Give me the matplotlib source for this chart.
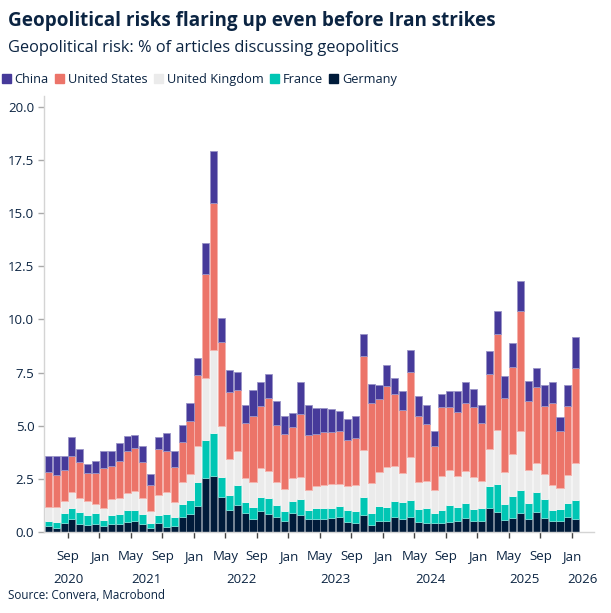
import numpy as np
import pandas as pd
import matplotlib
matplotlib.use('Agg')
import matplotlib.pyplot as plt
from matplotlib.patches import Rectangle
from matplotlib.colors import to_rgb

plt.rcParams['font.family'] = ['Open Sans', 'DejaVu Sans']

months = pd.period_range('2020-06', '2026-01', freq='M')

germany = [0.27, 0.20, 0.42, 0.61, 0.38, 0.31, 0.38, 0.28, 0.38, 0.36, 0.47, 0.52, 0.39, 0.20, 0.42, 0.24,
           0.28, 0.71, 0.85, 1.23, 2.56, 2.66, 1.67, 1.04, 1.27, 0.88, 0.60, 0.99, 0.83, 0.69, 0.52, 0.90,
           0.80, 0.63, 0.61, 0.61, 0.68, 0.69, 0.47, 0.44, 0.79, 0.31, 0.52, 0.53, 0.69, 0.63, 0.71, 0.47,
           0.42, 0.41, 0.41, 0.49, 0.53, 0.68, 0.52, 0.52, 1.13, 0.93, 0.58, 0.66, 0.90, 0.63, 0.93, 0.66,
           0.50, 0.52, 0.69, 0.63]
france = [0.25, 0.29, 0.46, 0.54, 0.56, 0.51, 0.50, 0.29, 0.44, 0.47, 0.57, 0.50, 0.47, 0.22, 0.37, 0.62,
          0.43, 0.63, 0.68, 1.11, 1.76, 1.98, 0.92, 0.71, 0.95, 0.55, 0.58, 0.66, 0.77, 0.58, 0.49, 0.56,
          0.74, 0.39, 0.54, 0.52, 0.47, 0.54, 0.57, 0.55, 0.85, 0.57, 0.69, 0.63, 0.76, 0.79, 0.80, 0.63,
          0.73, 0.47, 0.64, 0.77, 0.63, 0.69, 0.56, 0.61, 1.04, 1.35, 0.76, 1.02, 1.10, 0.72, 0.97, 0.88,
          0.54, 0.55, 0.69, 0.88]
uk = [0.66, 0.69, 0.58, 0.74, 0.68, 0.64, 0.46, 0.56, 0.74, 0.76, 0.80, 0.91, 0.74, 0.55, 0.96, 1.03,
      0.71, 1.03, 1.21, 1.73, 2.91, 3.93, 2.41, 1.69, 1.60, 1.13, 1.16, 1.35, 1.28, 1.09, 1.02, 1.09,
      1.05, 0.96, 1.04, 1.10, 1.11, 1.03, 1.13, 1.21, 2.24, 1.45, 1.62, 1.89, 1.66, 1.38, 2.04, 1.26,
      1.24, 1.09, 1.61, 1.65, 1.48, 1.51, 1.53, 1.28, 1.75, 2.53, 1.49, 1.98, 2.75, 1.56, 1.35, 1.21,
      1.19, 1.02, 1.31, 1.76]
us = [1.65, 1.52, 1.46, 1.69, 1.67, 1.31, 1.43, 1.90, 1.54, 1.76, 1.98, 2.02, 1.70, 1.25, 2.15, 1.93,
      1.65, 1.86, 2.48, 3.32, 4.89, 6.90, 3.96, 3.16, 2.88, 2.58, 3.13, 2.94, 3.41, 2.70, 2.58, 2.40,
      2.96, 2.60, 2.43, 2.50, 2.47, 2.49, 2.15, 2.22, 4.42, 3.72, 3.41, 3.84, 3.40, 2.95, 4.00, 3.11,
      2.69, 2.09, 3.20, 2.97, 3.02, 3.17, 3.29, 2.72, 3.52, 4.53, 3.49, 4.09, 5.66, 3.25, 3.57, 3.18,
      3.82, 2.67, 3.22, 4.47]
china = [0.77, 0.90, 0.65, 0.87, 0.63, 0.41, 0.59, 0.77, 0.72, 0.83, 0.72, 0.63, 0.73, 0.50, 0.58, 0.83,
         0.73, 0.80, 0.85, 0.80, 1.50, 2.45, 1.12, 1.01, 0.85, 0.82, 1.23, 1.12, 1.16, 1.12, 0.85, 0.66,
         1.49, 1.41, 1.21, 1.09, 1.04, 0.96, 0.99, 1.05, 1.04, 0.90, 0.68, 0.96, 0.74, 0.89, 1.03, 0.91,
         0.88, 0.70, 0.62, 0.77, 0.99, 1.01, 0.83, 0.83, 1.08, 1.05, 1.01, 1.15, 1.38, 0.95, 0.88, 1.00,
         1.01, 0.65, 1.01, 1.44]

series = [('Germany', germany, '#001b3a'),
          ('France', france, '#00c6b4'),
          ('United Kingdom', uk, '#ebebeb'),
          ('United States', us, '#ec7469'),
          ('China', china, '#463a9a')]
legend_order = ['China', 'United States', 'United Kingdom', 'France', 'Germany']

text_col = '#0b2442'

fig = plt.figure(figsize=(6.11, 6.13), dpi=100)
ax = fig.add_axes([0.072, 0.132, 0.9, 0.711])

x = np.arange(len(months))
bottom = np.zeros(len(months))
handles = {}
for name, vals, col in series:
    vals = np.array(vals)
    edge = tuple(c + (1 - c) * 0.45 for c in to_rgb(col))
    ax.bar(x, vals, bottom=bottom, width=0.9, color=col, edgecolor=edge, linewidth=0.6)
    bottom += vals
    handles[name] = Rectangle((0, 0), 1, 1, color=col)

ax.set_ylim(0, 20.5)
ax.set_xlim(-0.55, 69.3)
ax.set_yticks(np.arange(0, 20.1, 2.5))
ax.set_yticklabels(['%.1f' % v for v in np.arange(0, 20.1, 2.5)])

tick_idx = [i for i, m in enumerate(months) if m.month in (1, 5, 9)]
ax.set_xticks([i - 0.5 for i in tick_idx])
ax.set_xticklabels([months[i].strftime('%b') for i in tick_idx])

for s in ['top', 'right']:
    ax.spines[s].set_visible(False)
for s in ['left', 'bottom']:
    ax.spines[s].set_color('#d4d4d4')
    ax.spines[s].set_linewidth(1.0)

ax.tick_params(axis='y', colors='#aaaaaa', labelcolor=text_col, labelsize=9.5, length=4, width=1, pad=3)
ax.tick_params(axis='x', colors='#444444', labelcolor=text_col, labelsize=9.5, length=4, width=1, pad=9)

# year labels under the month labels
years = sorted(set(m.year for m in months))
for yr in years:
    idx = [i for i, m in enumerate(months) if m.year == yr]
    if yr == years[0]:
        pos = tick_idx[0] - 0.5
    elif yr == years[-1]:
        pos = (idx[0] - 0.5 + ax.get_xlim()[1]) / 2
    else:
        pos = idx[0] - 0.5 + 6
    ax.annotate(str(yr), xy=(pos, 0), xycoords=('data', 'axes fraction'),
                xytext=(0, -34), textcoords='offset points', ha='center', va='center',
                fontsize=9.5, color=text_col)

title = fig.text(0.013, 0.966, 'Geopolitical risks flaring up even before Iran strikes',
                 fontsize=14, fontweight='bold', color=text_col, va='center')
# fit the title to the width it has in the original (about 489 px)
r = fig.canvas.get_renderer()
w = title.get_window_extent(r).width
title.set_fontsize(14 * 489 / w)

fig.text(0.013, 0.922, 'Geopolitical risk: % of articles discussing geopolitics',
         fontsize=11.8, color=text_col, va='center')
fig.text(0.013, 0.029, 'Source: Convera, Macrobond', fontsize=8.4, color=text_col, va='center')

fig.legend([handles[n] for n in legend_order], legend_order, loc='center left',
           bbox_to_anchor=(0.003, 0.871), ncol=5, frameon=False, fontsize=9.2,
           handlelength=0.7, handleheight=0.7, handletextpad=0.3, columnspacing=0.5,
           borderaxespad=0, borderpad=0, labelcolor=text_col)

fig.savefig('out.png', dpi=100)
